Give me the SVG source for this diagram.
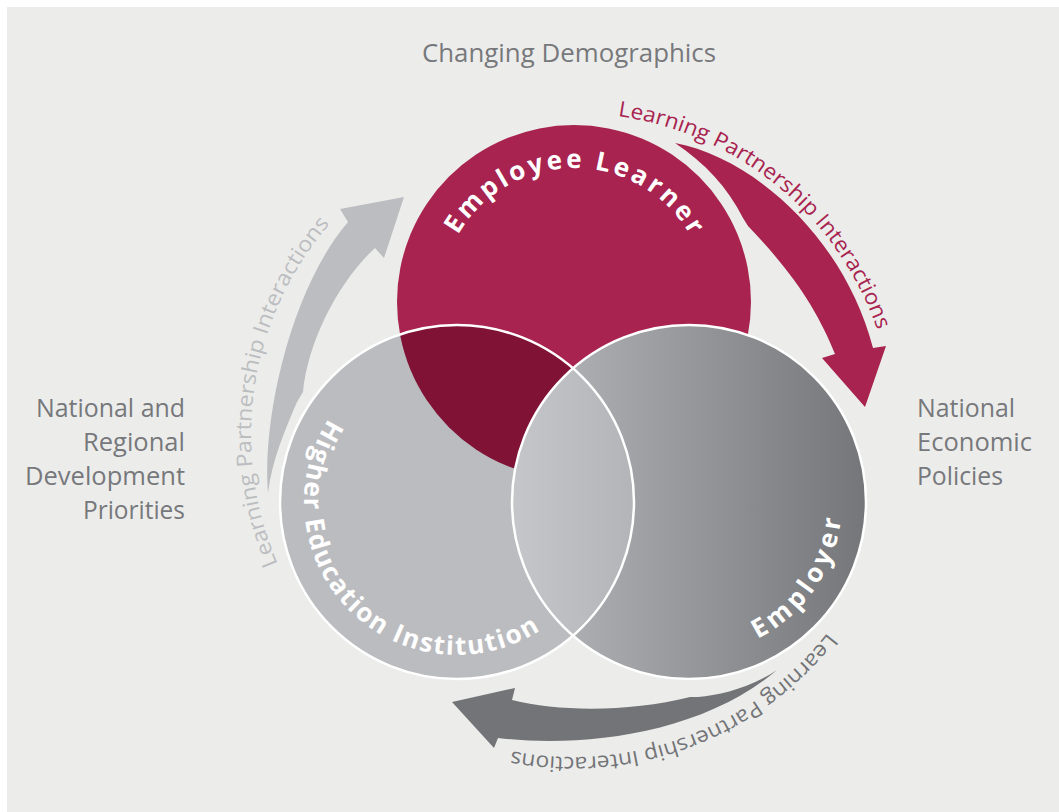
<svg xmlns="http://www.w3.org/2000/svg" xmlns:xlink="http://www.w3.org/1999/xlink" width="1059" height="812" viewBox="0 0 1059 812">
<style>
.lbl{font-family:"Open Sans","Noto Sans","Liberation Sans",sans-serif;font-size:25px;fill:#77787b}
.arc{font-family:"Open Sans","Noto Sans","Liberation Sans",sans-serif;font-size:21.5px}
.nl{font-family:"Open Sans","Noto Sans","Liberation Sans",sans-serif;font-size:26px;font-weight:700;fill:#ffffff}
.ring{fill:none;stroke:#ffffff;stroke-width:2.5}
</style>
<defs>
<linearGradient id="gEmp" gradientUnits="userSpaceOnUse" x1="513" y1="0" x2="866" y2="0">
<stop offset="0" stop-color="#b8b9bc"/><stop offset="1" stop-color="#75767a"/>
</linearGradient>
<linearGradient id="gLens" gradientUnits="userSpaceOnUse" x1="513" y1="0" x2="636" y2="0">
<stop offset="0" stop-color="#c5c6c9"/><stop offset="1" stop-color="#b3b4b7"/>
</linearGradient>
<clipPath id="cLeft"><circle cx="457" cy="502" r="177"/></clipPath>
<clipPath id="cRight"><circle cx="689" cy="502" r="177"/></clipPath>
<path id="pRed" d="M 617.8 116.1 A 322 322 0 0 1 890.1 379.1"/>
<path id="pLeft" d="M 277.9 563.9 A 322 322 0 0 1 366.0 188.3"/>
<path id="pBot" d="M 827.4 632.4 A 322 322 0 0 1 462.9 737.6"/>
<path id="pEL" d="M 457.95 235 A 134 134 0 0 1 699.9 256.2"/>
<path id="pHEI" d="M 328.7 418.7 A 153 153 0 0 0 565.2 610.2"/>
<path id="pEmp" d="M 757.5 638.8 A 153 153 0 0 0 841.4 488.7"/>
</defs>
<rect x="0" y="0" width="1059" height="812" fill="#ffffff"/>
<rect x="7" y="7" width="1052" height="805" fill="#ecedeb"/>

<g id="context-labels">
<text class="lbl" x="569" y="62" text-anchor="middle" textLength="294" lengthAdjust="spacingAndGlyphs">Changing Demographics</text>
<text class="lbl" x="36" y="417" textLength="149" lengthAdjust="spacingAndGlyphs">National and</text>
<text class="lbl" x="83" y="451" textLength="102" lengthAdjust="spacingAndGlyphs">Regional</text>
<text class="lbl" x="25" y="485" textLength="160" lengthAdjust="spacingAndGlyphs">Development</text>
<text class="lbl" x="83" y="519" textLength="102" lengthAdjust="spacingAndGlyphs">Priorities</text>
<text class="lbl" x="917" y="417" textLength="98" lengthAdjust="spacingAndGlyphs">National</text>
<text class="lbl" x="917" y="451" textLength="115" lengthAdjust="spacingAndGlyphs">Economic</text>
<text class="lbl" x="917" y="485" textLength="86" lengthAdjust="spacingAndGlyphs">Policies</text>
</g>

<g id="node-employee-learner">
<circle cx="574" cy="302" r="177" fill="#a8234f"/>
</g>
<g id="node-higher-education-institution">
<circle cx="457" cy="502" r="177" fill="#bbbcbf"/>
<circle cx="574" cy="302" r="177" fill="#801236" clip-path="url(#cLeft)"/>
</g>
<g id="node-employer">
<circle cx="689" cy="502" r="177" fill="url(#gEmp)"/>
<circle cx="457" cy="502" r="177" fill="url(#gLens)" clip-path="url(#cRight)"/>
</g>
<g id="outlines">
<circle class="ring" cx="457" cy="502" r="177"/>
<circle class="ring" cx="689" cy="502" r="177"/>
</g>
<g id="node-labels">
<text class="nl"><textPath xlink:href="#pEL" href="#pEL" textLength="281" lengthAdjust="spacing">Employee Learner</textPath></text>
<text class="nl"><textPath xlink:href="#pHEI" href="#pHEI" textLength="416" lengthAdjust="spacing">Higher Education Institution</textPath></text>
<text class="nl"><textPath xlink:href="#pEmp" href="#pEmp" textLength="152" lengthAdjust="spacing">Employer</textPath></text>
</g>

<g id="connectors">
<path d="M 675 143 C 755 158 845 240 873 348 L 886 346 L 865 407 L 822 358 L 835 354 C 818 312 795 275 748 226 L 743 218 C 728 188 705 163 675 143 Z" fill="#a8234f"/>
<path d="M 268 493 C 262 420 290 290 348 222 L 340 209 L 404 197 L 384 258 L 375 248 C 340 280 308 340 303 392 L 297 402 C 285 430 272 460 268 493 Z" fill="#bcbdc0"/>
<path d="M 777 670 C 750 688 720 695 698 697 L 690 697 C 630 712 560 712 512 700 L 515 688 L 452 702 L 494 748 L 498 738 C 580 748 700 735 777 670 Z" fill="#737477"/>
<text class="arc" fill="#a8234f"><textPath xlink:href="#pRed" href="#pRed" textLength="354" lengthAdjust="spacingAndGlyphs">Learning Partnership Interactions</textPath></text>
<text class="arc" fill="#bcbdc0"><textPath xlink:href="#pLeft" href="#pLeft" textLength="363" lengthAdjust="spacingAndGlyphs">Learning Partnership Interactions</textPath></text>
<text class="arc" fill="#737477"><textPath xlink:href="#pBot" href="#pBot" textLength="355" lengthAdjust="spacingAndGlyphs">Learning Partnership Interactions</textPath></text>
</g>
</svg>
